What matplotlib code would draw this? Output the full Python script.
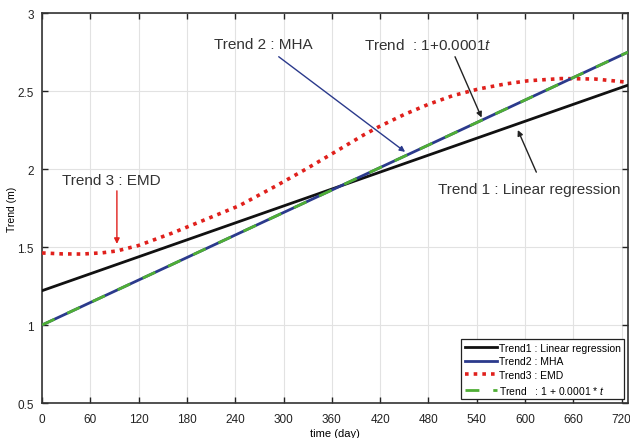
import matplotlib
matplotlib.use("Agg")
import matplotlib.pyplot as plt

plt.rcParams['font.family'] = ['Liberation Sans', 'DejaVu Sans']
plt.rcParams['mathtext.fontset'] = 'custom'
plt.rcParams['mathtext.it'] = 'Liberation Sans:italic'
plt.rcParams['mathtext.rm'] = 'Liberation Sans'

# Data
line_days = [0, 728]
trend1_linreg = [1.22, 2.538]
trend2_mha = [1.0, 2.75]
trend_ref = [1.0, 2.75]
emd_days = [0, 25, 50, 75, 93, 120, 162, 200, 245, 290, 328, 356, 369, 400, 418,
            450, 480, 510, 542, 575, 604, 645, 687, 728]
emd_vals = [1.462, 1.456, 1.455, 1.463, 1.475, 1.51, 1.59, 1.67, 1.765, 1.89, 2.0,
            2.085, 2.125, 2.22, 2.27, 2.35, 2.415, 2.47, 2.513, 2.545, 2.566, 2.58,
            2.577, 2.556]
xticks = list(range(0, 721, 60))
yticks = [0.5, 1, 1.5, 2, 2.5, 3]
legend_labels = ["Trend1 : Linear regression", "Trend2 : MHA", "Trend3 : EMD",
                 r"Trend   : 1 + 0.0001 * $t$"]

fig = plt.figure(figsize=(6.3, 4.39), dpi=100)
ax = fig.add_axes([0.0667, 0.0797, 0.9303, 0.8883])

c_black = '#111111'
c_blue = '#2b3a8c'
c_red = '#e0201c'
c_green = '#4fae35'

ax.plot(line_days, trend1_linreg, color=c_black, lw=2.0, label=legend_labels[0], zorder=3)
ax.plot(line_days, trend2_mha, color=c_blue, lw=2.0, label=legend_labels[1], zorder=4)
ax.plot(emd_days, emd_vals, color=c_red, lw=2.6, ls=(0, (1, 1.4)), label=legend_labels[2], zorder=3)
ax.plot(line_days, trend_ref, color=c_green, lw=2.0, ls=(0, (5, 5)), label=legend_labels[3], zorder=5)

ax.set_xlim(0, 728)
ax.set_ylim(0.5, 3)
ax.set_xticks(xticks)
ax.set_yticks(yticks)
ax.set_yticklabels(['0.5', '1', '1.5', '2', '2.5', '3'])
ax.tick_params(direction='in', top=True, right=True, length=4, width=1.0,
               labelsize=8.5, colors='#222222')
ax.tick_params(axis='x', pad=7)
ax.tick_params(axis='y', pad=6)
ax.grid(True, color='#e2e2e2', lw=0.8)
ax.set_axisbelow(True)
for s in ax.spines.values():
    s.set_color('#333333')
    s.set_linewidth(1.2)
ax.set_xlabel('time (day)', fontsize=8, labelpad=2)
ax.set_ylabel('Trend (m)', fontsize=7.5)
ax.yaxis.set_label_coords(-0.042, 0.5)

leg = ax.legend(loc='lower right', fontsize=7.5, frameon=True, fancybox=False,
                edgecolor='#222222', framealpha=1, borderpad=0.35,
                handlelength=3.1, labelspacing=0.35, handletextpad=0.2,
                borderaxespad=0.35)
leg.get_frame().set_linewidth(0.9)

fs = 11
tc = '#333333'
arrow_kw = dict(lw=1.0, mutation_scale=8, shrinkA=0, shrinkB=0)
ax.text(25, 1.93, 'Trend 3 : EMD', fontsize=fs, color=tc, ha='left', va='center')
ax.annotate('', xy=(93, 1.52), xytext=(93, 1.86),
            arrowprops=dict(arrowstyle='-|>', color=c_red, **arrow_kw))
ax.text(214, 2.8, 'Trend 2 : MHA', fontsize=fs, color=tc, ha='left', va='center')
ax.annotate('', xy=(451, 2.11), xytext=(294, 2.72),
            arrowprops=dict(arrowstyle='-|>', color=c_blue, **arrow_kw))
ax.text(400, 2.8, r'Trend  : 1+0.0001$t$', fontsize=fs, color=tc, ha='left', va='center')
ax.annotate('', xy=(546, 2.33), xytext=(513, 2.72),
            arrowprops=dict(arrowstyle='-|>', color='#222222', **arrow_kw))
ax.text(492, 1.87, 'Trend 1 : Linear regression', fontsize=fs, color=tc,
        ha='left', va='center')
ax.annotate('', xy=(591, 2.25), xytext=(614, 1.98),
            arrowprops=dict(arrowstyle='-|>', color='#222222', **arrow_kw))

fig.savefig('out.png', dpi=100)
